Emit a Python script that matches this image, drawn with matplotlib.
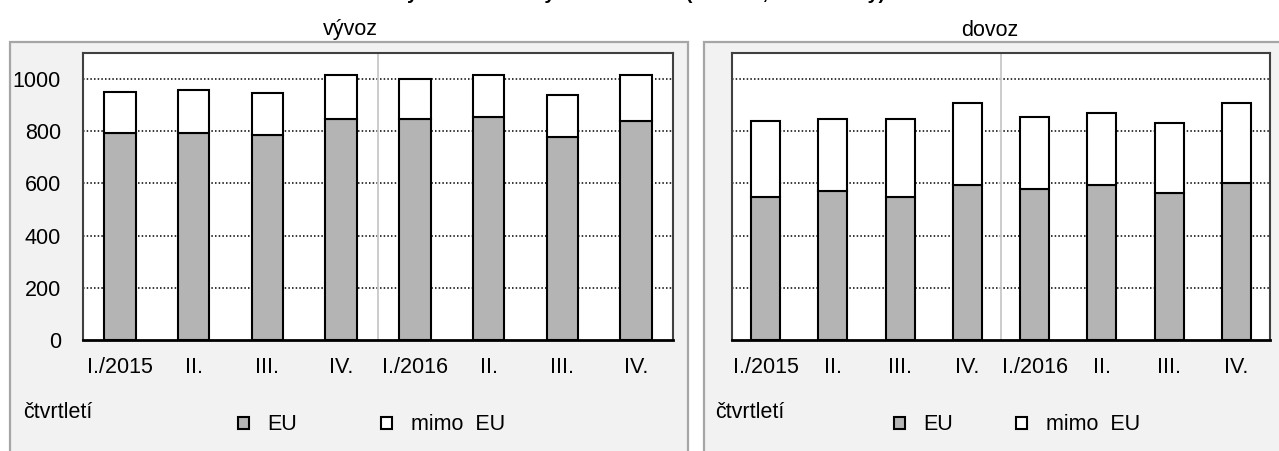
import numpy as np
import matplotlib
matplotlib.use('Agg')
import matplotlib.pyplot as plt
from matplotlib.patches import Rectangle, Patch

plt.rcParams.update({
    'font.family': ['Liberation Sans', 'DejaVu Sans'],
    'font.size': 15.5,
})

quarters = ['I./2015', 'II.', 'III.', 'IV.', 'I./2016', 'II.', 'III.', 'IV.']
vyvoz_eu = [794, 792, 785, 847, 846, 853, 777, 839]
vyvoz_mimo = [157, 168, 161, 167, 153, 161, 162, 175]
dovoz_eu = [549, 571, 549, 594, 580, 594, 563, 602]
dovoz_mimo = [290, 275, 297, 314, 273, 276, 268, 306]
yticks = [0, 200, 400, 600, 800, 1000]

W, H = 1279, 451
C_EU = '#b4b4b4'
C_PANEL = '#f2f2f2'
C_PANEL_EDGE = '#a6a6a6'


def fx(x):
    return x / W


def fy(y):
    # pixel measured from the top
    return 1 - y / H


fig = plt.figure(figsize=(W / 100, H / 100), dpi=100)
fig.patch.set_facecolor('white')

# light panels behind each chart
for x0, x1 in [(10, 688), (704, 1290)]:
    fig.patches.append(Rectangle((fx(x0), fy(480)), fx(x1 - x0), (480 - 42) / H,
                                 transform=fig.transFigure, facecolor=C_PANEL,
                                 edgecolor=C_PANEL_EDGE, lw=1.6, zorder=0))

# main title sits mostly above the picture, only the descenders show
fig.text(0.5, fy(-1), 'Vývoz a dovoz výrobků celkem (mld. Kč, běžné ceny)',
         ha='center', va='baseline', fontsize=14, fontweight='bold')

fig.text(fx(350), fy(30), 'vývoz', ha='center', va='center')
fig.text(fx(990), fy(30), 'dovoz', ha='center', va='center')

panels = [
    (83, 590, vyvoz_eu, vyvoz_mimo, True, 237.5, 3.92),
    (732, 538, dovoz_eu, dovoz_mimo, False, 893.5, 2.95),
]

x = np.arange(len(quarters))
for left, width, eu, mimo, show_y, leg_x, colsp in panels:
    ax = fig.add_axes([fx(left), fy(340), fx(width), 287 / H])
    ax.set_facecolor('white')
    ax.set_zorder(2)
    ax.bar(x, eu, width=0.43, color=C_EU, edgecolor='black', lw=1.5, zorder=3)
    ax.bar(x, mimo, bottom=eu, width=0.43, color='white', edgecolor='black',
           lw=1.5, zorder=3)
    for yv in yticks[1:]:
        ax.axhline(yv, color='black', lw=1.1, ls=(0, (1, 1.4)), zorder=1)
    ax.axvline(3.5, color='#c8c8c8', lw=1.3, zorder=1)
    ax.set_xlim(-0.5, len(quarters) - 0.5)
    ax.set_ylim(0, 1100)
    ax.set_xticks(x)
    ax.set_xticklabels(quarters)
    ax.set_yticks(yticks)
    if not show_y:
        ax.set_yticklabels([])
    ax.tick_params(length=0)
    ax.tick_params(axis='x', pad=12)
    ax.tick_params(axis='y', pad=16)
    for s in ['top', 'right', 'left']:
        ax.spines[s].set_color('#404040')
        ax.spines[s].set_linewidth(1.5)
    ax.spines['bottom'].set_color('black')
    ax.spines['bottom'].set_linewidth(2)

    fig.text(fx(left - (60 if show_y else 17)), fy(418), 'čtvrtletí',
             ha='left', va='baseline')

    handles = [Patch(facecolor=C_EU, edgecolor='black', lw=1.5, label='EU'),
               Patch(facecolor='white', edgecolor='black', lw=1.5, label='mimo  EU')]
    fig.legend(handles=handles, ncol=2, loc='center left',
               bbox_to_anchor=(fx(leg_x), fy(425)), frameon=False,
               handlelength=0.52, handleheight=0.52, handletextpad=0.85,
               columnspacing=colsp, borderpad=0, borderaxespad=0)

fig.savefig('out.png', dpi=100, facecolor='white')
